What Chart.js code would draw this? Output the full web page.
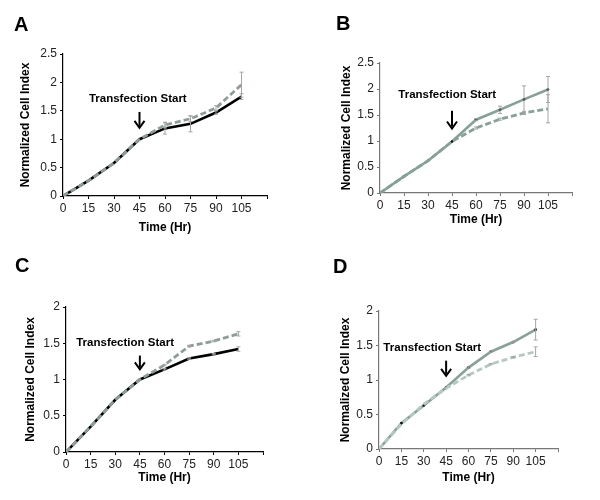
<!DOCTYPE html>
<html>
<head>
<meta charset="utf-8">
<script src="https://cdn.jsdelivr.net/npm/chart.js@4.4.1/dist/chart.umd.min.js"></script>
<style>
    body { margin: 0; background: #fff; }
    #wrap { position: relative; width: 600px; height: 500px; }
    canvas { position: absolute; }
</style>
</head>
<body>
<div id="wrap">
    <canvas id="chartA" width="300" height="250" style="left:0;top:0"></canvas>
    <canvas id="chartB" width="300" height="250" style="left:300px;top:0"></canvas>
    <canvas id="chartC" width="300" height="250" style="left:0;top:250px"></canvas>
    <canvas id="chartD" width="300" height="250" style="left:300px;top:250px"></canvas>
</div>
<script>
// time points (hr)
var hours = [0, 15, 30, 45, 60, 75, 90, 105];

// panel A
var aSolid = [0, 0.27, 0.58, 1.0, 1.19, 1.27, 1.47, 1.75];
var aDashed = [0, 0.27, 0.58, 1.0, 1.25, 1.36, 1.55, 1.96];
var aSolidErr = [0, 0, 0, 0, 0.1, 0.14, 0.03, 0.05];
var aDashedErr = [0, 0, 0, 0, 0.05, 0.05, 0.04, 0.22];

// panel B
var bSolid = [0, 0.32, 0.62, 0.99, 1.41, 1.6, 1.8, 1.99];
var bDashed = [0, 0.32, 0.62, 0.99, 1.25, 1.42, 1.54, 1.62];
var bSolidErr = [0, 0, 0, 0, 0.02, 0.07, 0.26, 0.25];
var bDashedErr = [0, 0, 0, 0, 0.02, 0.02, 0.03, 0.27];

// panel C
var cSolid = [0, 0.35, 0.72, 1.0, 1.14, 1.29, 1.35, 1.42];
var cDashed = [0, 0.35, 0.72, 1.0, 1.2, 1.46, 1.53, 1.63];
var cSolidErr = [0, 0, 0, 0, 0.01, 0.01, 0.01, 0.03];
var cDashedErr = [0, 0, 0, 0, 0.01, 0.01, 0.01, 0.03];

// panel D
var dSolid = [0, 0.375, 0.63, 0.89, 1.18, 1.41, 1.55, 1.73];
var dDashed = [0, 0.36, 0.65, 0.88, 1.07, 1.23, 1.33, 1.41];
var dSolidErr = [0, 0, 0, 0, 0.01, 0.01, 0.01, 0.15];
var dDashedErr = [0, 0, 0, 0, 0.01, 0.01, 0.01, 0.07];

var xTicksMax = 120;

function toPoints(values) {
    return values.map(function (v, i) { return { x: hours[i], y: v }; });
}

// draws error bars, the panel letter and the "Transfection Start" arrow
var panelExtras = {
    id: 'panelExtras',
    afterDatasetsDraw: function (chart) {
        var ctx = chart.ctx;
        var opt = chart.options.plugins.panelExtras;
        var xs = chart.scales.x, ys = chart.scales.y;

        ctx.save();
        ctx.strokeStyle = '#a5a5a5';
        ctx.lineWidth = 1;
        chart.data.datasets.forEach(function (ds) {
            ds.data.forEach(function (p, i) {
                var e = ds.errors[i];
                if (!e) return;
                var px = xs.getPixelForValue(p.x);
                var top = ys.getPixelForValue(p.y + e);
                var bot = ys.getPixelForValue(p.y - e);
                ctx.beginPath();
                ctx.moveTo(px, top); ctx.lineTo(px, bot);
                ctx.moveTo(px - 2, top); ctx.lineTo(px + 2, top);
                ctx.moveTo(px - 2, bot); ctx.lineTo(px + 2, bot);
                ctx.stroke();
            });
        });

        // annotation
        ctx.fillStyle = '#000';
        ctx.font = 'bold 11.5px "Liberation Sans", Arial, sans-serif';
        ctx.textAlign = 'center';
        ctx.textBaseline = 'middle';
        ctx.fillText('Transfection Start', xs.getPixelForValue(opt.textX), ys.getPixelForValue(opt.textY));

        var ax = xs.getPixelForValue(45);
        var aTop = ys.getPixelForValue(opt.arrowTop);
        var aBot = ys.getPixelForValue(opt.arrowBottom);
        ctx.strokeStyle = '#000';
        ctx.lineWidth = 2;
        ctx.beginPath();
        ctx.moveTo(ax, aTop);
        ctx.lineTo(ax, aBot - 2);
        ctx.stroke();
        ctx.beginPath();
        ctx.moveTo(ax - 5, aBot - 7);
        ctx.lineTo(ax, aBot);
        ctx.lineTo(ax + 5, aBot - 7);
        ctx.stroke();

        // panel letter
        ctx.font = 'bold 20px "Liberation Sans", Arial, sans-serif';
        ctx.textAlign = 'left';
        ctx.textBaseline = 'alphabetic';
        ctx.fillText(opt.letter, opt.letterX, opt.letterY);
        ctx.restore();
    }
};

function createPanel(canvasId, p) {
    var ctx = document.getElementById(canvasId).getContext('2d');
    var padLeft = p.yTitleX - 11;
    var xHeight = p.xTitleY + 11 - p.bottom;
    new Chart(ctx, {
        type: 'line',
        data: {
            datasets: [{
                data: toPoints(p.dashed),
                errors: p.dashedErr,
                borderColor: p.dashedColor,
                borderWidth: 2.8,
                borderDash: [6, 3],
                pointRadius: 0,
                tension: 0,
                order: 0
            }, {
                data: toPoints(p.solid),
                errors: p.solidErr,
                borderColor: p.solidColor,
                borderWidth: 2.6,
                pointRadius: p.dots ? 1.3 : 0,
                pointBackgroundColor: '#111',
                pointBorderWidth: 0,
                tension: 0,
                order: 1
            }]
        },
        options: {
            responsive: false,
            animation: false,
            devicePixelRatio: 1,
            layout: {
                padding: { left: padLeft, right: 300 - p.right, top: p.top, bottom: 250 - p.bottom - xHeight }
            },
            scales: {
                x: {
                    type: 'linear',
                    min: 0,
                    max: xTicksMax,
                    afterFit: function (s) { s.height = xHeight; },
                    ticks: {
                        stepSize: 15,
                        padding: 2,
                        maxRotation: 0,
                        autoSkip: false,
                        color: '#222',
                        font: { size: 12, family: '"Liberation Sans", Arial' },
                        callback: function (v) { return v > 105 ? '' : String(v); }
                    },
                    grid: { drawOnChartArea: false, tickLength: 3, color: p.axisColor },
                    border: { color: p.axisColor, width: 1.2 },
                    title: {
                        display: true,
                        text: 'Time (Hr)',
                        color: '#000',
                        font: { size: 12, weight: 'bold', family: '"Liberation Sans", Arial' },
                        padding: { top: 0, bottom: 4 }
                    }
                },
                y: {
                    min: 0,
                    max: p.yMax,
                    afterFit: function (s) { s.width = p.left - padLeft; },
                    ticks: {
                        stepSize: 0.5,
                        padding: 3,
                        color: '#222',
                        font: { size: 12, family: '"Liberation Sans", Arial' },
                        callback: function (v) { return String(v); }
                    },
                    grid: { drawOnChartArea: false, tickLength: 3, color: p.axisColor },
                    border: { color: p.axisColor, width: 1.2 },
                    title: {
                        display: true,
                        text: 'Normalized Cell Index',
                        color: '#000',
                        font: { size: 12, weight: 'bold', family: '"Liberation Sans", Arial' },
                        padding: { top: 4, bottom: 0 }
                    }
                }
            },
            plugins: {
                legend: { display: false },
                tooltip: { enabled: false },
                panelExtras: p.extras
            }
        },
        plugins: [panelExtras]
    });
}

createPanel('chartA', {
    solid: aSolid, dashed: aDashed, solidErr: aSolidErr, dashedErr: aDashedErr,
    solidColor: '#000', dashedColor: '#8e9d99', axisColor: '#000', dots: false,
    yMax: 2.5, left: 63, right: 267, top: 54, bottom: 196, yTitleX: 25, xTitleY: 228,
    extras: { letter: 'A', letterX: 14, letterY: 31, textX: 44, textY: 1.71, arrowTop: 1.48, arrowBottom: 1.2 }
});

createPanel('chartB', {
    solid: bSolid, dashed: bDashed, solidErr: bSolidErr, dashedErr: bDashedErr,
    solidColor: '#87a198', dashedColor: '#87a198', axisColor: '#777', dots: true,
    yMax: 2.5, left: 80, right: 272, top: 63, bottom: 193, yTitleX: 46, xTitleY: 220,
    extras: { letter: 'B', letterX: 36, letterY: 30, textX: 42, textY: 1.88, arrowTop: 1.58, arrowBottom: 1.24 }
});

createPanel('chartC', {
    solid: cSolid, dashed: cDashed, solidErr: cSolidErr, dashedErr: cDashedErr,
    solidColor: '#000', dashedColor: '#8e9d99', axisColor: '#000', dots: false,
    yMax: 2, left: 66, right: 263, top: 57, bottom: 202, yTitleX: 30, xTitleY: 228,
    extras: { letter: 'C', letterX: 15, letterY: 22, textX: 36, textY: 1.51, arrowTop: 1.33, arrowBottom: 1.14 }
});

createPanel('chartD', {
    solid: dSolid, dashed: dDashed, solidErr: dSolidErr, dashedErr: dDashedErr,
    solidColor: '#87a198', dashedColor: '#b6c9c1', axisColor: '#777', dots: true,
    yMax: 2, left: 79, right: 258, top: 61, bottom: 199, yTitleX: 45, xTitleY: 228,
    extras: { letter: 'D', letterX: 33, letterY: 23, textX: 35.7, textY: 1.46, arrowTop: 1.28, arrowBottom: 1.06 }
});
</script>
</body>
</html>
